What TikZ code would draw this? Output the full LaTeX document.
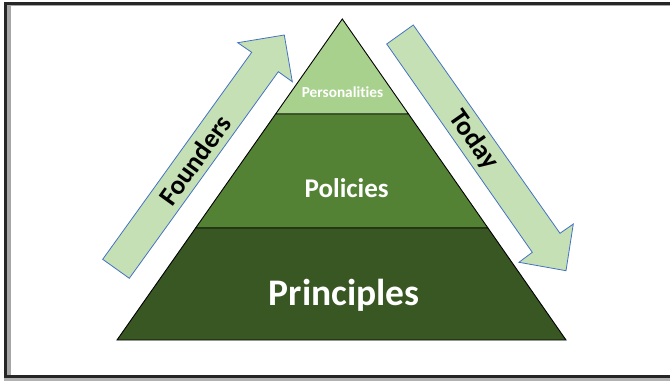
\documentclass[tikz,border=0pt]{standalone}
\usepackage{fontspec}
\setmainfont{Carlito}[Ligatures=NoCommon]
\usetikzlibrary{calc}
\definecolor{arrowfill}{HTML}{C5E0B4}
\definecolor{arrowline}{HTML}{4472C4}
\definecolor{layertop}{HTML}{A9D18E}
\definecolor{layermid}{HTML}{548235}
\definecolor{layerbot}{HTML}{385723}
\tikzset{
  layer/.style={draw=black, line width=0.9pt, line join=miter},
  bigarrow/.style={fill=arrowfill, draw=arrowline, line width=0.8pt, line join=miter},
  layertext/.style={text=white, font=\bfseries, inner sep=0pt, anchor=base},
  arrowtext/.style={text=black, font=\bfseries\fontsize{27}{27}\selectfont, inner sep=0pt}
}
\begin{document}
\begin{tikzpicture}[x=1pt, y=-1pt]
\useasboundingbox (0,0) rectangle (670,381);
% frame
\fill[black!85] (4,2) rectangle (670,4.8);
\fill[gray!70] (11,4.8) rectangle (670,5.8);
\fill[black!85] (4,2) rectangle (7,377.7);
\fill[gray!70] (7,4.8) rectangle (11,374.7);
\fill[black!85] (4,374.7) rectangle (670,377.7);
\fill[gray!60] (4,377.7) rectangle (670,381);
% pyramid
\coordinate (A) at (342.3,19);
\coordinate (BL) at (117,340);
\coordinate (BR) at (566,340);
\coordinate (L1) at ($(A)!0.296!(BL)$);
\coordinate (R1) at ($(A)!0.296!(BR)$);
\coordinate (L2) at ($(A)!0.651!(BL)$);
\coordinate (R2) at ($(A)!0.651!(BR)$);
\draw[layer, fill=layertop] (A) -- (R1) -- (L1) -- cycle;
\draw[layer, fill=layermid] (L1) -- (R1) -- (R2) -- (L2) -- cycle;
\draw[layer, fill=layerbot] (L2) -- (R2) -- (BR) -- (BL) -- cycle;
\node[layertext, font=\bfseries\fontsize{15.3}{15.3}\selectfont] (pers) at (342.5,97.7) {Personalities};
\node[layertext, font=\bfseries\fontsize{27}{27}\selectfont] (pol) at (346.7,197.7) {Policies};
\node[layertext, font=\bfseries\fontsize{37.5}{37.5}\selectfont] (prin) at (344.2,305.7) {Principles};
% left arrow (Founders)
\draw[bigarrow] (102.7,259.3) -- (251.7,52.3) -- (237.7,42.7) -- (284.3,35)
  -- (292.3,81.7) -- (278.3,71.7) -- (129.3,278.3) -- cycle;
\node[arrowtext, rotate=54.3] (founders) at (195,160) {Founders};
% right arrow (Today)
\draw[bigarrow] (386.7,44) -- (413.3,25) -- (560,233.3) -- (573.3,224)
  -- (566,270.7) -- (519,262.3) -- (532.3,252.3) -- cycle;
\node[arrowtext, rotate=-55] (today) at (473.5,140) {Today};
\end{tikzpicture}
\end{document}
